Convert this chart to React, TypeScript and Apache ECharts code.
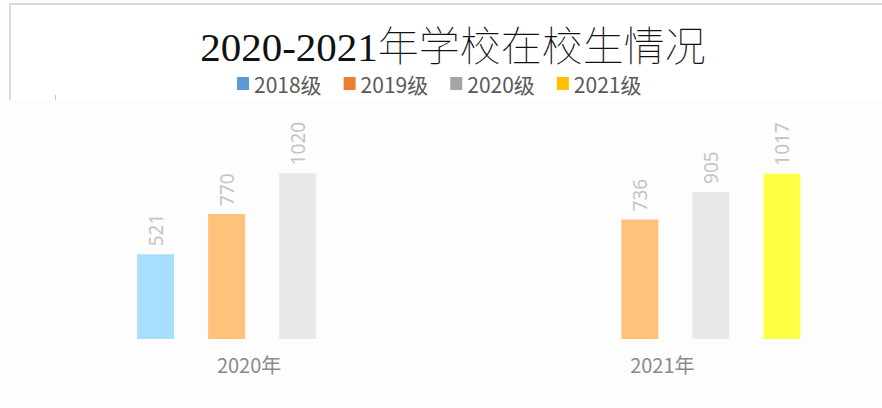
import React, { useEffect, useRef } from "react";
import * as echarts from "echarts";

const titleText = "2020-2021年学校在校生情况";
const categories = ["2020年", "2021年"];
const seriesNames = ["2018级", "2019级", "2020级", "2021级"];
const values2018: (number | string)[] = [521, "-"];
const values2019: (number | string)[] = [770, 736];
const values2020: (number | string)[] = [1020, 905];
const values2021: (number | string)[] = ["-", 1017];
const barColors = ["#A8DEFF", "#FFC27A", "#E9E7E9", "#FFFF44"];
const legendColors = ["#5B9BD5", "#ED7D31", "#A5A5A5", "#FFC000"];

const FONT = "'Noto Sans CJK SC', 'Noto Sans', sans-serif";

export default function App() {
  const ref = useRef<HTMLDivElement>(null);
  useEffect(() => {
    if (!ref.current) return;
    const chart = echarts.init(ref.current, undefined, { renderer: "svg" });
    const allValues = [values2018, values2019, values2020, values2021];
    chart.setOption({
      animation: false,
      backgroundColor: "#fdfdfd",
      graphic: [
        {
          type: "rect",
          shape: { x: 10, y: 4, width: 900, height: 96 },
          style: { fill: "#ffffff" },
          z: -10,
        },
        {
          type: "polyline",
          shape: { points: [[10, 100], [10, 4], [900, 4]] },
          style: { stroke: "#d9d9d9", lineWidth: 2, fill: null },
          z: -9,
        },
        {
          type: "line",
          shape: { x1: 55.5, y1: 95, x2: 55.5, y2: 100 },
          style: { stroke: "#c8c8c8", lineWidth: 1 },
        },
      ],
      title: {
        text: titleText,
        left: 448,
        textAlign: "center",
        top: 21,
        textStyle: {
          fontFamily: "'Liberation Serif', 'Noto Sans CJK SC', serif",
          fontSize: 41,
          fontWeight: "lighter",
          color: "#111111",
        },
      },
      legend: {
        left: 232,
        top: 68,
        itemWidth: 12,
        itemHeight: 13,
        itemGap: 22,
        icon: "rect",
        textStyle: { fontFamily: FONT, fontSize: 21, color: "#595959" },
        data: seriesNames.map((n, i) => ({ name: n, itemStyle: { color: legendColors[i] } })),
      },
      grid: { left: 55.5, top: 144, width: 830, height: 195 },
      xAxis: {
        type: "category",
        data: categories,
        axisLine: { show: false },
        axisTick: { show: false },
        axisLabel: {
          margin: 15,
          fontFamily: FONT,
          fontSize: 20,
          color: "#8a8a8a",
          padding: [0, 26, 0, 0],
        },
      },
      yAxis: {
        type: "value",
        min: 0,
        max: 1200,
        show: false,
        splitLine: { show: false },
      },
      series: seriesNames.map((n, i) => ({
        name: n,
        type: "bar",
        data: allValues[i],
        barWidth: 37,
        barGap: "92%",
        itemStyle: { color: barColors[i] },
        label: {
          show: true,
          position: "top",
          rotate: 90,
          align: "left",
          verticalAlign: "middle",
          distance: 8,
          fontFamily: "'Noto Sans', sans-serif",
          fontSize: 19,
          color: "#c4c4c4",
        },
      })),
    });
    return () => chart.dispose();
  }, []);
  return (
    <div
      ref={ref}
      style={{ position: "absolute", left: 0, top: 0, width: 882, height: 408 }}
    />
  );
}
